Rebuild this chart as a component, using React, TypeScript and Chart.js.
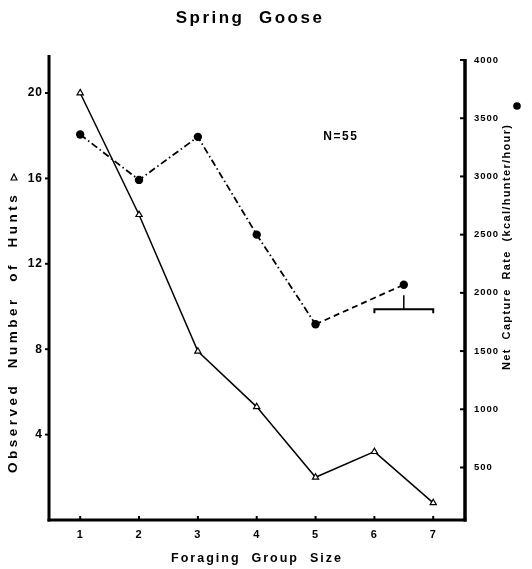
import React, { useEffect, useRef } from 'react';
import { Chart, registerables } from 'chart.js';

Chart.register(...registerables);

// Foraging group size (x) and the two measured series
const groupSizes = [1, 2, 3, 4, 5, 6, 7];
const huntCounts = [20, 14.3, 7.9, 5.3, 2.0, 3.2, 0.8];
const captureGroups = [1, 2, 3, 4, 5, 6.5];
const captureRates = [3360, 2970, 3340, 2500, 1730, 2070];

// Tick labels
const xTickValues = [1, 2, 3, 4, 5, 6, 7];
const huntTickValues = [4, 8, 12, 16, 20];
const rateTickValues = [500, 1000, 1500, 2000, 2500, 3000, 3500, 4000];

// Groups 6 and 7 are pooled into the last capture-rate point
const pooledRange = [6, 7];
const pooledBracketRate = 1860;
const pooledStemTop = 1980;

const sampleNote = 'N=55';
const noteGroup = 5.43;
const noteRate = 3340;

const titleText = 'Spring  Goose';
const xTitle = 'Foraging  Group  Size';
const leftTitle = 'Observed  Number  of  Hunts';
const rightTitle = 'Net  Capture  Rate  (kcal/hunter/hour)';

const FONT = '"Liberation Sans", Arial, sans-serif';

function drawText(
  ctx: CanvasRenderingContext2D,
  text: string,
  x: number,
  y: number,
  size: number,
  spacing: number,
  align: CanvasTextAlign,
  rotate = 0
) {
  ctx.save();
  ctx.translate(x, y);
  if (rotate) ctx.rotate(rotate);
  ctx.font = `bold ${size}px ${FONT}`;
  (ctx as any).letterSpacing = `${spacing}px`;
  ctx.textAlign = align;
  ctx.textBaseline = 'middle';
  ctx.fillStyle = '#000';
  ctx.fillText(text, 0, 0);
  ctx.restore();
}

const decorPlugin = {
  id: 'decor',
  beforeDraw(chart: any) {
    (chart.ctx as any).letterSpacing = '1px';
  },
  afterDraw(chart: any) {
    const { ctx, chartArea: a, scales } = chart;
    const xs = scales.x;
    const ys = scales.y;
    const rs = scales.y1;
    const seg = (x1: number, y1: number, x2: number, y2: number) => {
      ctx.beginPath();
      ctx.moveTo(x1, y1);
      ctx.lineTo(x2, y2);
      ctx.stroke();
    };

    ctx.save();
    ctx.strokeStyle = '#000';
    ctx.fillStyle = '#000';

    // Axis frame
    ctx.lineWidth = 3;
    seg(a.left, a.top, a.left, a.bottom + 1.5);
    seg(a.left - 1.5, a.bottom, a.right + 1.5, a.bottom);
    ctx.lineWidth = 3.5;
    seg(a.right, rs.getPixelForValue(4000) - 1, a.right, a.bottom + 1.5);

    // Tick marks
    ctx.lineWidth = 2;
    huntTickValues.forEach((v) => {
      const py = ys.getPixelForValue(v);
      seg(a.left - 4, py, a.left, py);
    });
    rateTickValues.forEach((v) => {
      const py = rs.getPixelForValue(v);
      seg(a.right - 5, py, a.right, py);
    });
    xTickValues.forEach((v) => {
      const px = xs.getPixelForValue(v);
      seg(px, a.bottom - 4, px, a.bottom);
    });

    // Bracket marking the pooled groups
    ctx.lineWidth = 2;
    const bx1 = xs.getPixelForValue(pooledRange[0]);
    const bx2 = xs.getPixelForValue(pooledRange[1]);
    const by = rs.getPixelForValue(pooledBracketRate);
    const mid = xs.getPixelForValue((pooledRange[0] + pooledRange[1]) / 2);
    ctx.beginPath();
    ctx.moveTo(bx1, by + 4);
    ctx.lineTo(bx1, by);
    ctx.lineTo(bx2, by);
    ctx.lineTo(bx2, by + 4);
    ctx.stroke();
    ctx.lineWidth = 1.5;
    seg(mid, by, mid, rs.getPixelForValue(pooledStemTop));

    // Texts
    drawText(ctx, titleText, 250, 18, 17, 2.5, 'center');
    drawText(ctx, xTitle, 257, 559, 12.5, 2, 'center');
    drawText(ctx, leftTitle, 13, 473, 13.5, 3.5, 'left', -Math.PI / 2);
    drawText(ctx, rightTitle, 507, 370, 11, 1.35, 'left', -Math.PI / 2);
    drawText(
      ctx,
      sampleNote,
      xs.getPixelForValue(noteGroup),
      rs.getPixelForValue(noteRate),
      12,
      1.5,
      'center'
    );

    // Series symbols next to the axis titles
    ctx.lineWidth = 1.2;
    ctx.beginPath();
    ctx.moveTo(14, 174);
    ctx.lineTo(11, 180);
    ctx.lineTo(17, 180);
    ctx.closePath();
    ctx.stroke();
    ctx.beginPath();
    ctx.arc(517, 106, 3.8, 0, Math.PI * 2);
    ctx.fill();

    ctx.restore();
  },
};

export default function App() {
  const canvasRef = useRef<HTMLCanvasElement | null>(null);

  useEffect(() => {
    const canvas = canvasRef.current;
    if (!canvas) return;

    const chart = new Chart(canvas, {
      type: 'line',
      data: {
        datasets: [
          {
            label: 'Observed Number of Hunts',
            data: groupSizes.map((g, i) => ({ x: g, y: huntCounts[i] })),
            yAxisID: 'y',
            borderColor: '#000',
            borderWidth: 1.5,
            pointStyle: 'triangle',
            pointRadius: 3.6,
            pointBorderWidth: 1.2,
            pointBackgroundColor: '#fff',
            pointBorderColor: '#000',
            tension: 0,
          },
          {
            label: 'Net Capture Rate',
            data: captureGroups.map((g, i) => ({ x: g, y: captureRates[i] })),
            yAxisID: 'y1',
            borderColor: '#000',
            borderWidth: 1.8,
            pointStyle: 'circle',
            pointRadius: 4.2,
            pointBorderWidth: 0,
            pointBackgroundColor: '#000',
            tension: 0,
            segment: {
              borderDash: (c: any) =>
                c.p1DataIndex === captureGroups.length - 1 ? [6, 4] : [7, 3, 1.5, 3],
            },
          },
        ],
      },
      options: {
        responsive: false,
        animation: false,
        events: [],
        layout: { padding: { top: 55, left: 0, right: 0, bottom: 0 } },
        plugins: {
          legend: { display: false },
          title: { display: false },
          tooltip: { enabled: false },
        },
        scales: {
          x: {
            type: 'linear',
            position: 'bottom',
            min: 0.47,
            max: 7.54,
            grid: { display: false, drawTicks: false },
            border: { display: false },
            afterBuildTicks: (s: any) => {
              s.ticks = xTickValues.map((v) => ({ value: v }));
            },
            afterFit: (s: any) => {
              s.height = 49;
            },
            ticks: {
              autoSkip: false,
              maxRotation: 0,
              padding: 8,
              color: '#000',
              callback: (v: any) => String(v),
              font: { family: FONT, size: 11, weight: 'bold' },
            },
          },
          y: {
            type: 'linear',
            position: 'left',
            min: 0,
            max: 21.78,
            grid: { display: false, drawTicks: false },
            border: { display: false },
            afterBuildTicks: (s: any) => {
              s.ticks = huntTickValues.map((v) => ({ value: v }));
            },
            afterFit: (s: any) => {
              s.width = 49;
            },
            ticks: {
              padding: 6,
              color: '#000',
              callback: (v: any) => String(v),
              font: { family: FONT, size: 12, weight: 'bold' },
            },
          },
          y1: {
            type: 'linear',
            position: 'right',
            min: 49,
            max: 4043,
            grid: { display: false, drawTicks: false },
            border: { display: false },
            afterBuildTicks: (s: any) => {
              s.ticks = rateTickValues.map((v) => ({ value: v }));
            },
            afterFit: (s: any) => {
              s.width = 67;
            },
            ticks: {
              padding: 9,
              color: '#000',
              callback: (v: any) => String(v),
              font: { family: FONT, size: 9.5, weight: 'bold' },
            },
          },
        },
      },
      plugins: [decorPlugin],
    } as any);

    return () => chart.destroy();
  }, []);

  return (
    <div style={{ position: 'absolute', left: 0, top: 0, width: 532, height: 569, background: '#fff' }}>
      <canvas ref={canvasRef} width={532} height={569} />
    </div>
  );
}
